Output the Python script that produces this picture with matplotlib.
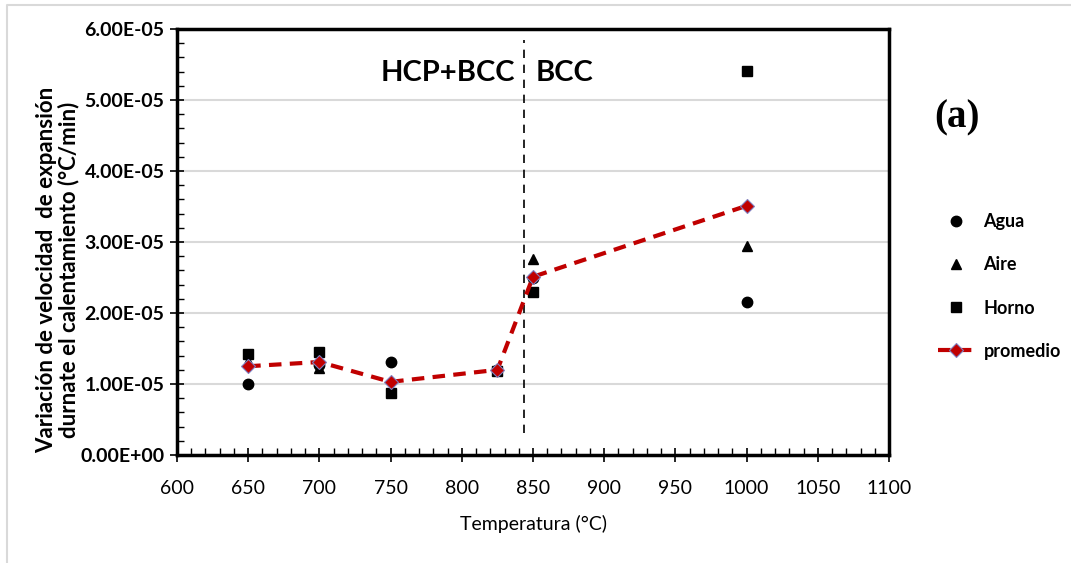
import matplotlib
matplotlib.use("Agg")
import matplotlib.pyplot as plt
from matplotlib.ticker import MultipleLocator
from matplotlib.lines import Line2D

# datos
temp = [650, 700, 750, 825, 850, 1000]
agua = [1.00e-5, 1.27e-5, 1.31e-5, 1.20e-5, 2.49e-5, 2.16e-5]
aire = [1.33e-5, 1.22e-5, 0.90e-5, 1.20e-5, 2.76e-5, 2.95e-5]
horno = [1.42e-5, 1.45e-5, 0.88e-5, 1.19e-5, 2.30e-5, 5.41e-5]
promedio = [1.25e-5, 1.31e-5, 1.03e-5, 1.20e-5, 2.51e-5, 3.51e-5]
x_transicion = 844
y_transicion = [0.31e-5, 5.85e-5]

plt.rcParams['font.family'] = ['Lato', 'DejaVu Sans']

fig = plt.figure(figsize=(10.71, 5.63), dpi=100)
ax = fig.add_axes([177/1071, 1-455/563, (889-177)/1071, (455-29)/563])

# borde gris (solo izquierda y arriba)
fig.lines.append(Line2D([7/1071, 7/1071, 1.0], [0.0, 1-5/563, 1-5/563],
                        transform=fig.transFigure, color='#d9d9d9', linewidth=1.5))

ax.plot(temp, agua, 'o', color='black', markersize=7.5, label='Agua', zorder=3)
ax.plot(temp, aire, '^', color='black', markersize=7.5, label='Aire', zorder=3)
ax.plot(temp, horno, 's', color='black', markersize=7.5, label='Horno', zorder=3)
ax.plot(temp, promedio, '--', color='#c00000', linewidth=3, dashes=(3, 2),
        marker='D', markersize=7, markerfacecolor='#c00000', markeredgecolor='#8080c0',
        markeredgewidth=0.8, label='promedio', zorder=4)

ax.vlines(x_transicion, y_transicion[0], y_transicion[1], colors='black',
          linestyles=(0, (5, 4)), linewidth=1.2)

ax.set_xlim(600, 1100)
ax.set_ylim(0, 6e-5)
ax.xaxis.set_major_locator(MultipleLocator(50))
ax.xaxis.set_minor_locator(MultipleLocator(10))
ax.yaxis.set_major_locator(MultipleLocator(1e-5))
ax.yaxis.set_minor_locator(MultipleLocator(2e-6))
ax.yaxis.set_major_formatter(plt.FuncFormatter(lambda v, p: ('%.2E' % v)))

ax.grid(True, axis='y', which='major', color='#d9d9d9', linewidth=1.5)
ax.set_axisbelow(True)

for s in ax.spines.values():
    s.set_linewidth(2.5)
ax.tick_params(which='major', direction='inout', length=10, width=1.2, labelsize=14)
ax.tick_params(which='minor', direction='in', length=5, width=1)
ax.tick_params(axis='x', pad=13)
ax.tick_params(axis='y', pad=4)
for lab in ax.get_yticklabels():
    lab.set_fontweight('bold')

ax.set_xlabel('Temperatura (°C)', fontsize=14, labelpad=13)
ax.set_ylabel('Variación de velocidad  de expansión\ndurnate el calentamiento (°C/min)',
              fontsize=16, fontweight='bold', linespacing=1.05)
ax.yaxis.set_label_coords(-0.137, 0.434)

ax.text(790, 5.38e-5, 'HCP+BCC', fontsize=21, fontweight='bold', ha='center', va='center')
ax.text(872, 5.38e-5, 'BCC', fontsize=21, fontweight='bold', ha='center', va='center')
fig.text(957/1071, 1-118/563, '(a)', fontsize=28, fontweight='bold',
         family='Liberation Serif', ha='center', va='center')

ax.legend(loc='upper left', bbox_to_anchor=(922/1071, 1-197/563),
          bbox_transform=fig.transFigure, frameon=False,
          labelspacing=1.45, handlelength=2.0, handletextpad=0.5,
          prop={'weight': 'bold', 'size': 13})

fig.savefig('out.png', dpi=100)
